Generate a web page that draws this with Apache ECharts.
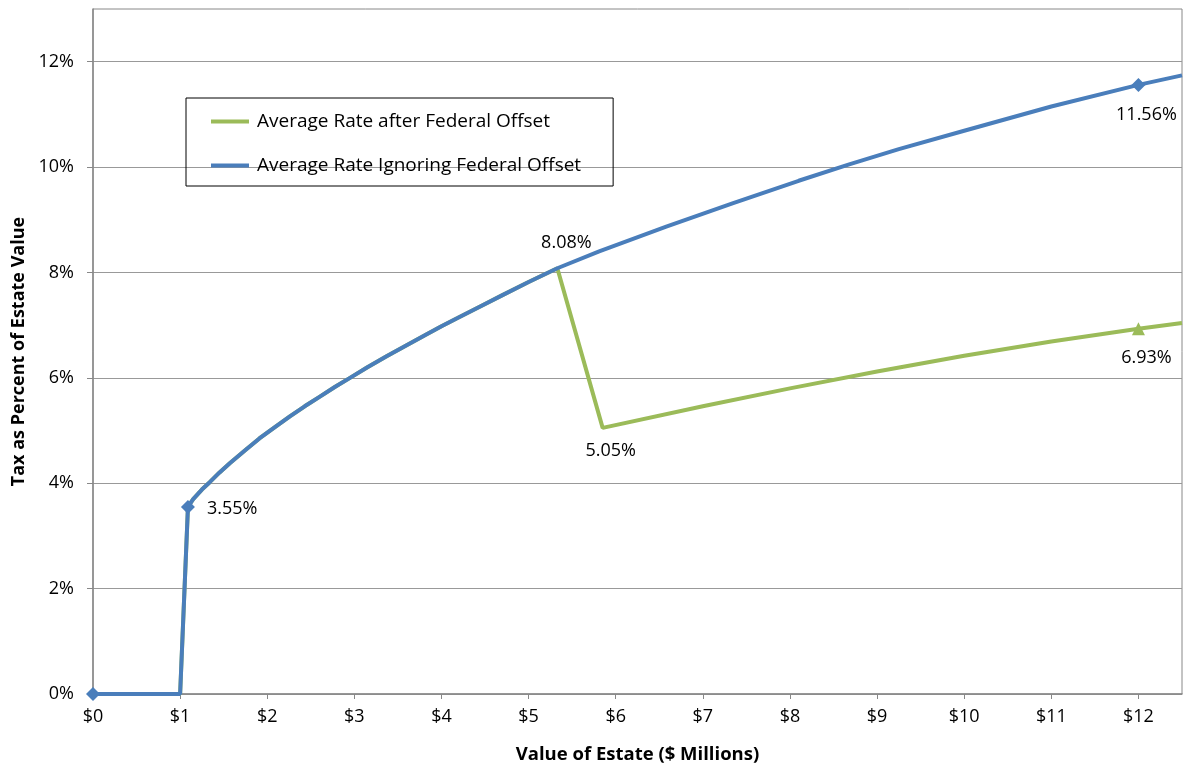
<!DOCTYPE html>
<html>
<head>
<meta charset="utf-8">
<script src="https://cdn.jsdelivr.net/npm/echarts@6/dist/echarts.min.js"></script>
<style>
  html, body { margin: 0; padding: 0; background: #fff; }
  #chart { width: 1186px; height: 765px; }
</style>
</head>
<body>
<div id="chart"></div>
<script>
// Estate value in $ millions paired with average tax rate (%)
const ignoringOffset = [
  [0, 0], [1.0, 0], [1.09, 3.55], [1.15, 3.70], [1.25, 3.88], [1.34, 4.02],
  [1.45, 4.20], [1.57, 4.38], [1.75, 4.63], [1.91, 4.85], [2.10, 5.08],
  [2.26, 5.27], [2.43, 5.46], [2.60, 5.64], [2.78, 5.83], [2.95, 6.00],
  [3.15, 6.20], [3.37, 6.41], [3.60, 6.62], [3.82, 6.82], [4.00, 6.98],
  [4.19, 7.14], [4.45, 7.36], [4.70, 7.57], [5.00, 7.82], [5.33, 8.08],
  [5.81, 8.40], [6.58, 8.87], [7.34, 9.31], [8.10, 9.74], [8.68, 10.05],
  [9.25, 10.34], [10.0, 10.69], [11.0, 11.15], [12.0, 11.56], [12.5, 11.74]
];
const afterOffset = [
  [0, 0], [1.0, 0], [1.09, 3.55], [1.15, 3.70], [1.25, 3.88], [1.34, 4.02],
  [1.45, 4.20], [1.57, 4.38], [1.75, 4.63], [1.91, 4.85], [2.10, 5.08],
  [2.26, 5.27], [2.43, 5.46], [2.60, 5.64], [2.78, 5.83], [2.95, 6.00],
  [3.15, 6.20], [3.37, 6.41], [3.60, 6.62], [3.82, 6.82], [4.00, 6.98],
  [4.19, 7.14], [4.45, 7.36], [4.70, 7.57], [5.00, 7.82], [5.33, 8.08],
  [5.85, 5.05], [7.0, 5.46], [8.0, 5.80], [9.0, 6.12], [10.0, 6.42],
  [11.0, 6.69], [12.0, 6.93], [12.5, 7.04]
];
// Points that carry a marker and/or a value label
const blueMarked = { '0': 'diamond', '1.09': 'diamond', '12': 'diamond' };
const blueLabelled = { '1.09': 'right', '12': 'bottom' };
const greenMarked = { '12': 'triangle' };
const greenLabelled = { '5.33': 'top', '5.85': 'bottom', '12': 'bottom' };

const xTicks = [0, 1, 2, 3, 4, 5, 6, 7, 8, 9, 10, 11, 12];
const yTicks = [0, 2, 4, 6, 8, 10, 12];

const BLUE = '#4A7EBB';
const GREEN = '#9BBB59';
const FONT = 'Open Sans';

function pct(v) { return v.toFixed(2) + '%'; }

function labelFor(pos) {
  const base = { show: true, color: '#000', fontFamily: FONT, fontSize: 18, formatter: p => pct(p.value[1]) };
  if (pos === 'right') return Object.assign(base, { position: 'right', distance: 12, offset: [0, 2] });
  if (pos === 'top') return Object.assign(base, { position: 'top', distance: 16, offset: [9, 0] });
  return Object.assign(base, { position: 'bottom', distance: 14, offset: [8, 0] });
}

function buildData(points, marked, labelled) {
  return points.map(([x, y]) => {
    const key = String(x);
    const item = { value: [x, y] };
    if (marked[key]) {
      item.symbol = marked[key];
      item.symbolSize = marked[key] === 'triangle' ? 13 : 14;
    } else {
      item.symbol = 'circle';
      item.symbolSize = 0;
    }
    if (labelled[key]) item.label = labelFor(labelled[key]);
    return item;
  });
}

const chart = echarts.init(document.getElementById('chart'), null, { renderer: 'canvas' });
chart.setOption({
  animation: false,
  backgroundColor: '#fff',
  textStyle: { fontFamily: FONT },
  grid: {
    left: 93, right: 4, top: 9, bottom: 71,
    outerBoundsMode: 'none', containLabel: false,
    show: true, borderColor: '#888', borderWidth: 1, backgroundColor: 'transparent'
  },
  legend: {
    left: 186, top: 98, orient: 'vertical',
    padding: [14, 32, 11, 25], itemGap: 25,
    borderColor: '#000', borderWidth: 1,
    icon: 'rect', itemWidth: 38, itemHeight: 4,
    textStyle: { fontFamily: FONT, fontSize: 19, color: '#000', padding: [0, 0, 0, 3] },
    data: ['Average Rate after Federal Offset', 'Average Rate Ignoring Federal Offset']
  },
  xAxis: {
    type: 'value', min: 0, max: 12.5, interval: 1,
    name: 'Value of Estate ($ Millions)', nameLocation: 'middle', nameGap: 51,
    nameTextStyle: { fontFamily: FONT, fontSize: 18.5, fontWeight: 'bold', color: '#000' },
    axisLine: { show: true, lineStyle: { color: '#888', width: 1.5 } },
    axisTick: { show: true, length: 5, lineStyle: { color: '#888' }, customValues: xTicks },
    axisLabel: { color: '#000', fontSize: 18, fontFamily: FONT, margin: 14, customValues: xTicks, formatter: v => '$' + v },
    splitLine: { show: false }
  },
  yAxis: {
    type: 'value', min: 0, max: 13, interval: 2,
    name: 'Tax as Percent of Estate Value', nameLocation: 'middle', nameGap: 65,
    nameTextStyle: { fontFamily: FONT, fontSize: 18, fontWeight: 'bold', color: '#000' },
    axisLine: { show: true, lineStyle: { color: '#888', width: 1.5 } },
    axisTick: { show: true, length: 6, lineStyle: { color: '#888' }, customValues: yTicks },
    axisLabel: { color: '#000', fontSize: 18, fontFamily: FONT, margin: 19, customValues: yTicks, formatter: v => v + '%' },
    splitLine: { show: true, lineStyle: { color: '#999', width: 1.2 } }
  },
  series: [
    {
      name: 'Average Rate after Federal Offset',
      type: 'line',
      color: GREEN,
      showSymbol: true, showAllSymbol: true,
      lineStyle: { width: 4, color: GREEN },
      itemStyle: { color: GREEN },
      data: buildData(afterOffset, greenMarked, greenLabelled),
      z: 2
    },
    {
      name: 'Average Rate Ignoring Federal Offset',
      type: 'line',
      color: BLUE,
      showSymbol: true, showAllSymbol: true,
      lineStyle: { width: 4, color: BLUE },
      itemStyle: { color: BLUE },
      data: buildData(ignoringOffset, blueMarked, blueLabelled),
      z: 3
    }
  ]
});
</script>
</body>
</html>
